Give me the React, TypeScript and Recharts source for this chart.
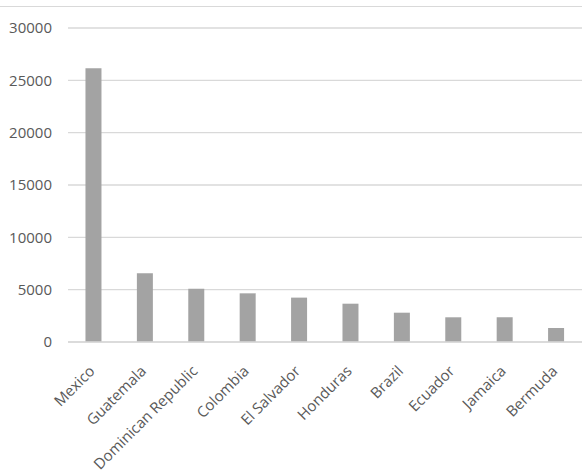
import React from "react";
import { BarChart, Bar, XAxis, YAxis, CartesianGrid } from "recharts";

const countries = [
  "Mexico",
  "Guatemala",
  "Dominican Republic",
  "Colombia",
  "El Salvador",
  "Honduras",
  "Brazil",
  "Ecuador",
  "Jamaica",
  "Bermuda",
];
const values = [26150, 6560, 5090, 4650, 4240, 3660, 2800, 2360, 2360, 1340];
const yTicks = [0, 5000, 10000, 15000, 20000, 25000, 30000];

const data = countries.map((name, i) => ({ name, value: values[i] }));

const FONT = "'Open Sans', sans-serif";
const TEXT = "#595959";

const XTick = (props: any) => {
  const { x, y, payload } = props;
  return (
    <g transform={`translate(${x + 2},${y + 22})`}>
      <text
        x={0}
        y={0}
        textAnchor="end"
        transform="rotate(-45)"
        fill={TEXT}
        fontSize={15}
        fontFamily={FONT}
      >
        {payload.value}
      </text>
    </g>
  );
};

export default function App() {
  return (
    <div style={{ position: "absolute", left: 0, top: 0, width: 582, height: 474, background: "#fff" }}>
      <div style={{ position: "absolute", left: 0, top: 6, width: 582, borderTop: "1px solid #d9d9d9" }} />
      <BarChart
        width={582}
        height={474}
        data={data}
        margin={{ top: 28, right: 0, bottom: 12, left: 0 }}
        barCategoryGap="34%"
      >
        <CartesianGrid vertical={false} stroke="#d9d9d9" strokeWidth={1.3} />
        <XAxis
          dataKey="name"
          interval={0}
          axisLine={{ stroke: "#d9d9d9", strokeWidth: 1.3 }}
          tickLine={false}
          height={120}
          tick={<XTick />}
        />
        <YAxis
          width={68}
          domain={[0, 30000]}
          ticks={yTicks}
          axisLine={false}
          tickLine={false}
          tickMargin={10}
          tick={{ fill: TEXT, fontSize: 15, fontFamily: FONT }}
        />
        <Bar dataKey="value" fill="#a3a3a3" isAnimationActive={false} />
      </BarChart>
    </div>
  );
}
